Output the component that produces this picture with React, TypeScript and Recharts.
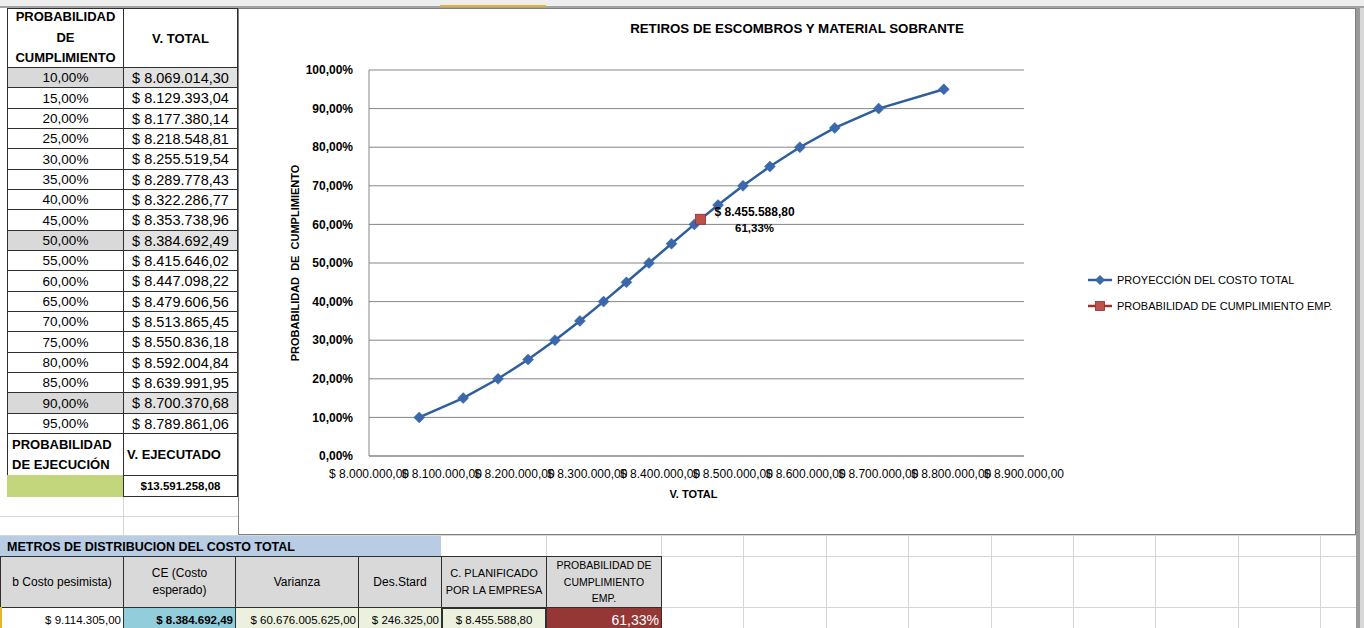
import React from 'react';
import { ComposedChart, Line, XAxis, YAxis, CartesianGrid, Legend } from 'recharts';

const FONT = "'Liberation Sans', Arial, Helvetica, sans-serif";

// ---- data ----
const probabilities = [0.10, 0.15, 0.20, 0.25, 0.30, 0.35, 0.40, 0.45, 0.50, 0.55, 0.60, 0.65, 0.70, 0.75, 0.80, 0.85, 0.90, 0.95];
const vTotals = [8069014.30, 8129393.04, 8177380.14, 8218548.81, 8255519.54, 8289778.43, 8322286.77, 8353738.96, 8384692.49, 8415646.02, 8447098.22, 8479606.56, 8513865.45, 8550836.18, 8592004.84, 8639991.95, 8700370.68, 8789861.06];
const empCost = [8455588.80];
const empProb = [0.6133];
const executedValue = [13591258.08];
const xTicks = [8000000, 8100000, 8200000, 8300000, 8400000, 8500000, 8600000, 8700000, 8800000, 8900000];
const yTicks = [0, 0.1, 0.2, 0.3, 0.4, 0.5, 0.6, 0.7, 0.8, 0.9, 1];
const seriesNames = ['PROYECCIÓN DEL COSTO TOTAL', 'PROBABILIDAD DE CUMPLIMIENTO EMP.'];
const highlightedRows = [0, 8, 16];
const paramTitle = 'METROS DE DISTRIBUCION DEL COSTO TOTAL';
const paramHeaders = [['b Costo pesimista)'], ['CE (Costo', 'esperado)'], ['Varianza'], ['Des.Stard'], ['C. PLANIFICADO', 'POR LA EMPRESA'], ['PROBABILIDAD DE', 'CUMPLIMIENTO', 'EMP.']];
const paramValues = [9114305.00, 8384692.49, 60676005625.00, 246325.00, 8455588.80];

// ---- helpers ----
const fmtNum = (n: number, d = 2) => {
  const s = n.toFixed(d);
  const [i, f] = s.split('.');
  return i.replace(/\B(?=(\d{3})+(?!\d))/g, '.') + (f ? ',' + f : '');
};
const fmtPct = (p: number) => fmtNum(p * 100, 2) + '%';

const BLUE_LINE = '#2E5E9E';
const BLUE_MARK = '#3A68AA';
const RED_FILL = '#C0504D';
const RED_STROKE = '#8E2F2C';
const RED_LINE = '#A0302D';
const GRID = '#868686';
const XL_GRID = '#d6d6d6';
const BORDER = '#2f2f2f';

const mainSeries = probabilities.map((p, i) => ({ v: vTotals[i], p }));
const empSeries = empCost.map((v, i) => ({ v, p: empProb[i] }));

type CellProps = {
  x: number; y: number; w: number; h: number; bg?: string; border?: string; bw?: number;
  align?: 'flex-start' | 'center' | 'flex-end'; pad?: number; style?: React.CSSProperties; children?: React.ReactNode;
};
function Cell({ x, y, w, h, bg = 'transparent', border = BORDER, bw = 1, align = 'center', pad = 3, style, children }: CellProps) {
  return (
    <div
      style={{
        position: 'absolute', left: x, top: y, width: w + bw, height: h + bw, boxSizing: 'border-box',
        border: `${bw}px solid ${border}`, background: bg, display: 'flex', flexDirection: 'column',
        alignItems: align, justifyContent: 'center', padding: `0 ${pad}px`, overflow: 'hidden', whiteSpace: 'nowrap',
        color: '#000', ...style,
      }}
    >
      {children}
    </div>
  );
}

const HLine = ({ x, y, w, c = XL_GRID }: { x: number; y: number; w: number; c?: string }) => (
  <div style={{ position: 'absolute', left: x, top: y, width: w, height: 1, background: c }} />
);
const VLine = ({ x, y, h, c = XL_GRID }: { x: number; y: number; h: number; c?: string }) => (
  <div style={{ position: 'absolute', left: x, top: y, width: 1, height: h, background: c }} />
);

const Diamond = (props: any) => {
  const { cx, cy, index } = props;
  if (cx == null || cy == null) return <g key={`dn-${index}`} />;
  const r = 5.5;
  return (
    <path key={`d-${index}`} d={`M${cx} ${cy - r} L${cx + r} ${cy} L${cx} ${cy + r} L${cx - r} ${cy} Z`} fill={BLUE_MARK} stroke={BLUE_MARK} strokeWidth={0.5} />
  );
};

const RedSquare = (props: any) => {
  const { cx, cy, index } = props;
  if (cx == null || cy == null) return <g key={`rn-${index}`} />;
  return <rect key={`r-${index}`} x={cx - 5} y={cy - 5} width={10} height={10} fill={RED_FILL} stroke={RED_STROKE} strokeWidth={0.8} />;
};

const EmpLabel = (props: any) => {
  const { x, y, index } = props;
  if (x == null || y == null) return <g />;
  const i = index ?? 0;
  return (
    <g>
      <text x={x + 54} y={y - 7} textAnchor="middle" dominantBaseline="central" fontFamily={FONT} fontSize={12} fontWeight="bold" fill="#000">
        {'$ ' + fmtNum(empCost[i])}
      </text>
      <text x={x + 54} y={y + 9} textAnchor="middle" dominantBaseline="central" fontFamily={FONT} fontSize={11.5} fontWeight="bold" fill="#000">
        {fmtPct(empProb[i])}
      </text>
    </g>
  );
};

const XTitle = (props: any) => {
  const vb = props.viewBox || {};
  return (
    <text x={vb.x + vb.width / 2 - 3} y={vb.y + 38} textAnchor="middle" dominantBaseline="central" fontFamily={FONT} fontSize={11} fontWeight="bold" fill="#000">
      V. TOTAL
    </text>
  );
};

const YTitle = (props: any) => {
  const vb = props.viewBox || {};
  const cx = vb.x - 14;
  const cy = vb.y + vb.height / 2;
  return (
    <text x={cx} y={cy} transform={`rotate(-90, ${cx}, ${cy})`} textAnchor="middle" dominantBaseline="central" fontFamily={FONT} fontSize={11} fontWeight="bold" fill="#000" style={{ whiteSpace: 'pre' }}>
      {'PROBABILIDAD  DE  CUMPLIMIENTO'}
    </text>
  );
};

const renderLegend = (props: any) => {
  const payload = [...(props.payload || [])].sort(
    (a: any, b: any) => seriesNames.indexOf(a.value) - seriesNames.indexOf(b.value)
  );
  return (
    <div style={{ fontFamily: FONT, fontSize: 11, color: '#000' }}>
      {payload.map((entry: any) => {
        const k = seriesNames.indexOf(entry.value);
        return (
          <div key={entry.value} style={{ display: 'flex', alignItems: 'center', height: 20, marginBottom: 6 }}>
            <svg width={24} height={12} style={{ display: 'block' }}>
              <line x1={0} y1={6} x2={24} y2={6} stroke={k === 0 ? BLUE_LINE : RED_LINE} strokeWidth={2.5} />
              {k === 0 ? (
                <path d="M12 1 L17 6 L12 11 L7 6 Z" fill={BLUE_MARK} />
              ) : (
                <rect x={7.5} y={1.5} width={9} height={9} fill={RED_FILL} stroke={RED_STROKE} strokeWidth={0.8} />
              )}
            </svg>
            <span style={{ marginLeft: 5, whiteSpace: 'nowrap' }}>{entry.value}</span>
          </div>
        );
      })}
    </div>
  );
};

export default function App() {
  const rowTop = (i: number) => Math.round(67 + (i * 366) / 18);
  const bCols = [0, 123, 235, 358, 441, 546, 661];
  const rightCols = [743, 826, 908, 991, 1073, 1155, 1238, 1320];
  const headerFont = [12, 12, 12, 12, 11, 10.5];
  return (
    <div style={{ position: 'absolute', left: 0, top: 0, width: 1364, height: 628, overflow: 'hidden', background: '#fff', fontFamily: FONT }}>
      {/* top bar */}
      <div style={{ position: 'absolute', left: 0, top: 0, width: 1364, height: 6, background: '#eeeeee' }} />
      <div style={{ position: 'absolute', left: 0, top: 6, width: 1364, height: 2, background: '#a3a3a3' }} />
      <div style={{ position: 'absolute', left: 440, top: 5, width: 106, height: 2, background: '#e3b52f' }} />

      {/* excel grid lines */}
      <HLine x={0} y={516} w={238} />
      <HLine x={0} y={535} w={1356} />
      <VLine x={123} y={496} h={40} />
      <VLine x={546} y={535} h={21} />
      <VLine x={661} y={535} h={21} />
      <HLine x={661} y={556} w={695} />
      <HLine x={661} y={607} w={695} />
      {rightCols.map((x) => (
        <VLine key={x} x={x} y={535} h={93} />
      ))}

      {/* left table */}
      <Cell x={7} y={8} w={116} h={59} style={{ fontWeight: 'bold', fontSize: 13, lineHeight: '20.5px' }}>
        <div>PROBABILIDAD</div>
        <div>DE</div>
        <div>CUMPLIMIENTO</div>
      </Cell>
      <Cell x={123} y={8} w={114} h={59} style={{ fontWeight: 'bold', fontSize: 13 }}>
        <div>V. TOTAL</div>
      </Cell>
      {probabilities.map((p, i) => {
        const hl = highlightedRows.includes(i);
        const y = rowTop(i);
        const h = rowTop(i + 1) - y;
        return (
          <React.Fragment key={i}>
            <Cell x={7} y={y} w={116} h={h} bg={hl ? '#d9d9d9' : '#fff'} style={{ fontSize: 13.5 }}>
              <div>{fmtPct(p)}</div>
            </Cell>
            <Cell x={123} y={y} w={114} h={h} bg={hl ? '#e2e2e2' : '#fff'} style={{ fontSize: 14.5 }}>
              <div>{'$ ' + fmtNum(vTotals[i])}</div>
            </Cell>
          </React.Fragment>
        );
      })}
      <Cell x={7} y={433} w={116} h={42} align="flex-start" pad={4} style={{ fontWeight: 'bold', fontSize: 13, lineHeight: '20px' }}>
        <div>PROBABILIDAD</div>
        <div>DE EJECUCIÓN</div>
      </Cell>
      <Cell x={123} y={433} w={114} h={42} align="flex-start" pad={3} style={{ fontWeight: 'bold', fontSize: 13 }}>
        <div>V. EJECUTADO</div>
      </Cell>
      <Cell x={7} y={475} w={116} h={21} bg="#c4d67b" border="#c4d67b" />
      <Cell x={123} y={475} w={114} h={21} style={{ fontWeight: 'bold', fontSize: 11.5 }}>
        <div>{'$' + fmtNum(executedValue[0])}</div>
      </Cell>

      {/* chart box */}
      <div style={{ position: 'absolute', left: 238, top: 8, width: 1118, height: 527, boxSizing: 'border-box', border: '1px solid #7f7f7f', background: '#fff' }} />
      <div style={{ position: 'absolute', left: 238, top: 20, width: 1118, textAlign: 'center', fontWeight: 'bold', fontSize: 13.3, lineHeight: '18px', color: '#000' }}>
        RETIROS DE ESCOMBROS Y MATERIAL SOBRANTE
      </div>
      <div style={{ position: 'absolute', left: 238, top: 8 }}>
        <ComposedChart width={1117} height={525} margin={{ top: 62, right: 331, bottom: 47, left: 71 }}>
          <CartesianGrid horizontal vertical={false} stroke={GRID} />
          <XAxis
            type="number"
            dataKey="v"
            domain={[8000000, 8900000]}
            ticks={xTicks}
            interval={0}
            tickFormatter={(v: number) => '$ ' + fmtNum(v)}
            tick={{ fontSize: 12, fill: '#000', fontFamily: FONT }}
            tickLine={false}
            tickMargin={7}
            axisLine={{ stroke: GRID }}
            height={30}
            label={XTitle}
          />
          <YAxis
            type="number"
            domain={[0, 1]}
            ticks={yTicks}
            interval={0}
            tickFormatter={(v: number) => fmtPct(v)}
            tick={{ fontSize: 12, fill: '#000', fontFamily: FONT, fontWeight: 'bold' }}
            tickLine={false}
            tickMargin={10}
            axisLine={{ stroke: GRID }}
            width={60}
            label={YTitle}
          />
          <Line
            data={mainSeries}
            dataKey="p"
            name={seriesNames[0]}
            type="linear"
            stroke={BLUE_LINE}
            strokeWidth={2.5}
            dot={Diamond}
            activeDot={false}
            isAnimationActive={false}
          />
          <Line
            data={empSeries}
            dataKey="p"
            name={seriesNames[1]}
            type="linear"
            stroke={RED_LINE}
            strokeWidth={2.5}
            dot={RedSquare}
            activeDot={false}
            label={EmpLabel}
            isAnimationActive={false}
          />
          <Legend layout="vertical" align="center" verticalAlign="middle" wrapperStyle={{ left: 850, top: 262, width: 270 }} content={renderLegend} />
        </ComposedChart>
      </div>

      {/* right shadow bar */}
      <div style={{ position: 'absolute', left: 1356, top: 8, width: 4, height: 620, background: '#9a9a9a' }} />
      <div style={{ position: 'absolute', left: 1360, top: 8, width: 4, height: 620, background: '#d8d8d8' }} />

      {/* bottom table */}
      <Cell x={0} y={536} w={440} h={20} bg="#b8cce4" border="#b8cce4" align="flex-start" pad={6} style={{ fontWeight: 'bold', fontSize: 12.5 }}>
        <div>{paramTitle}</div>
      </Cell>
      {paramHeaders.map((lines, i) => (
        <Cell key={i} x={bCols[i]} y={556} w={bCols[i + 1] - bCols[i]} h={51} bg="#d9d9d9" style={{ fontSize: headerFont[i], lineHeight: i === 5 ? '16.5px' : '17px' }}>
          {lines.map((l, j) => (
            <div key={j}>{l}</div>
          ))}
        </Cell>
      ))}
      <Cell x={0} y={607} w={123} h={24} bg="#fff" align="flex-end" pad={2} style={{ fontSize: 11.5 }}>
        <div>{'$ ' + fmtNum(paramValues[0])}</div>
      </Cell>
      <div style={{ position: 'absolute', left: 0, top: 607, width: 2, height: 21, background: '#e3b52f' }} />
      <Cell x={123} y={607} w={112} h={24} bg="#92cddc" align="flex-end" pad={2} style={{ fontSize: 11.5, fontWeight: 'bold' }}>
        <div>{'$ ' + fmtNum(paramValues[1])}</div>
      </Cell>
      <Cell x={235} y={607} w={123} h={24} bg="#ebf1de" align="flex-end" pad={2} style={{ fontSize: 11.5 }}>
        <div>{'$ ' + fmtNum(paramValues[2])}</div>
      </Cell>
      <Cell x={358} y={607} w={83} h={24} bg="#ebf1de" align="flex-end" pad={2} style={{ fontSize: 11.5 }}>
        <div>{'$ ' + fmtNum(paramValues[3])}</div>
      </Cell>
      <Cell x={441} y={607} w={104} h={24} bg="#ebf1de" bw={2} align="center" style={{ fontSize: 11.5 }}>
        <div>{'$ ' + fmtNum(paramValues[4])}</div>
      </Cell>
      <Cell x={546} y={607} w={115} h={24} bg="#953735" align="flex-end" pad={2} style={{ fontSize: 14, color: '#fff' }}>
        <div>{fmtPct(empProb[0])}</div>
      </Cell>
    </div>
  );
}
